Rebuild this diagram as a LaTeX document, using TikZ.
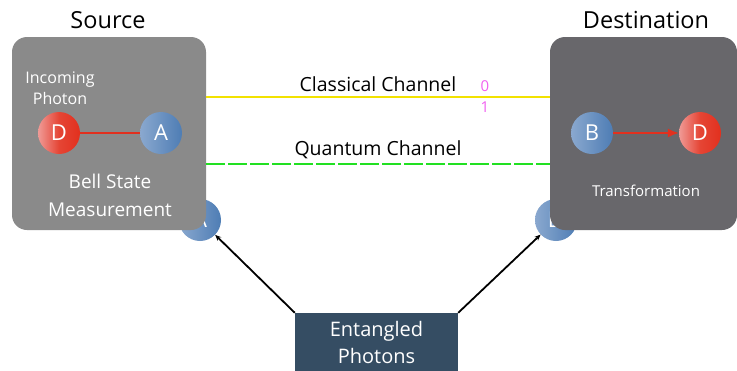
\documentclass[tikz,border=0pt]{standalone}
\usepackage{fontspec}
\setmainfont{Open Sans}
\usepackage{tikz}
\usetikzlibrary{arrows.meta,positioning,calc}

\definecolor{srcgray}{HTML}{8A8A8A}
\definecolor{dstgray}{HTML}{68676B}
\definecolor{entblue}{HTML}{354D63}
\definecolor{qblue}{HTML}{4E7DB4}
\definecolor{qbluel}{HTML}{8AA8CF}
\definecolor{qred}{HTML}{E2301E}
\definecolor{qredl}{HTML}{F09A96}
\definecolor{chyellow}{HTML}{F2E200}
\definecolor{chgreen}{HTML}{22E022}
\definecolor{bitpink}{HTML}{F060F0}

\begin{document}
\begin{tikzpicture}[
    x=1pt, y=1pt,
    font=\fontsize{13}{15}\selectfont,
    panel/.style  = {rounded corners=15pt, minimum width=194pt,
                     minimum height=193pt, inner sep=0pt},
    photon/.style = {circle, minimum size=42pt, inner sep=0pt,
                     text=white, font=\fontsize{22}{22}\selectfont},
    bphot/.style  = {photon, left color=qbluel, right color=qblue},
    rphot/.style  = {photon, left color=qredl, right color=qred,
                     middle color=qred!90!white},
    title/.style  = {font=\fontsize{23.5}{25}\selectfont},
    lbl/.style    = {text=white, align=center},
    arr/.style    = {-{Stealth[length=6pt,width=5pt]}, line width=1.8pt},
    chan/.style   = {line width=2pt},
]
\useasboundingbox (0,0) rectangle (737,-370);

% ============ photons sent from the entangled pair (behind panels) ============
\node[bphot] (sA) at (200,-220) {A};
\node[bphot] (sD) at (556,-220) {D};

% ============ Source / Destination panels ============
\node[panel, fill=srcgray] (src) at (109,-133.5) {};
\node[panel, fill=dstgray, minimum width=187pt] (dst) at (643.5,-133.5) {};

\node[title] (srct) at (108,-20) {Source};
\node[title] (dstt) at (646,-20) {Destination};

% inside the source
\node[lbl, font=\fontsize{16}{21}\selectfont] (inc) at (60,-88)
    {Incoming\\Photon};
\node[rphot] (pD) at (59,-133) {D};
\node[bphot] (pA) at (161,-133) {A};
\draw[qred, line width=1.6pt] (pD) -- (pA);
\node[lbl, font=\fontsize{19}{28}\selectfont] (bsm) at (110,-195)
    {Bell State\\Measurement};

% inside the destination
\node[bphot] (pB) at (592,-133) {B};
\node[rphot] (pD2) at (700,-133) {D};
\draw[-{Latex[length=11pt,width=9pt]}, qred, line width=1.6pt] (pB) -- (pD2);
\node[lbl, font=\fontsize{15}{17}\selectfont] (trf) at (646,-191)
    {Transformation};

% ============ channels ============
\draw[chan, chyellow] ([yshift=36.5pt]src.east) -- ([yshift=36.5pt]dst.west)
    node[midway, above=1pt, text=black, font=\fontsize{19.5}{21}\selectfont]
    {Classical Channel};
\node[text=bitpink, font=\fontsize{15}{17}\selectfont] (b0) at (485,-86) {0};
\node[text=bitpink, font=\fontsize{15}{17}\selectfont] (b1) at (485,-107) {1};

\draw[chan, chgreen, dash pattern=on 19pt off 3pt]
    ([yshift=-30.5pt]src.east) -- ([yshift=-30.5pt]dst.west)
    node[midway, above=1pt, text=black, font=\fontsize{19.5}{21}\selectfont]
    {Quantum Channel};

% ============ entangled photon source ============
\node[fill=entblue, minimum width=163pt, minimum height=58pt,
      text=white, align=center, font=\fontsize{20}{27}\selectfont]
    (ent) at (376.5,-342) {Entangled\\Photons};

\draw[arr] (ent.north west) -- (sA);
\draw[arr] (ent.north east) -- (sD);

\end{tikzpicture}
\end{document}
